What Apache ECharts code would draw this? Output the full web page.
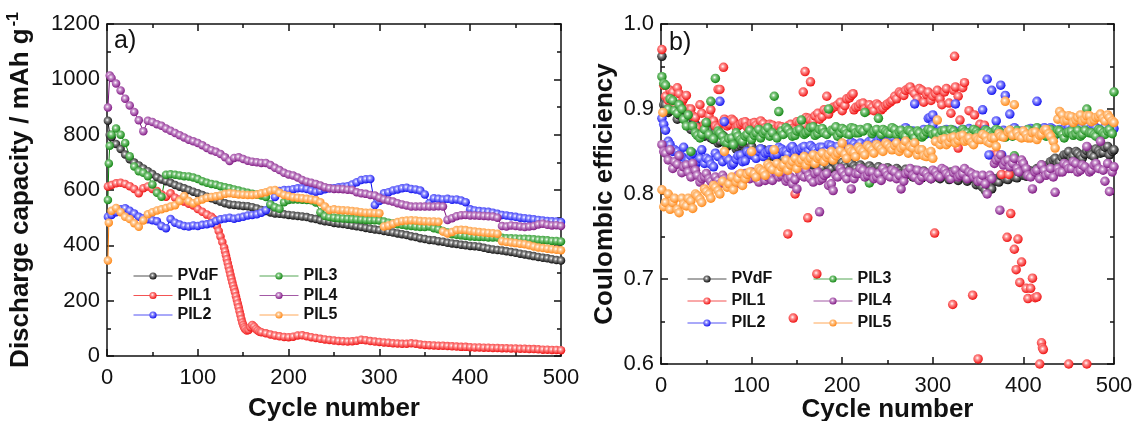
<!DOCTYPE html>
<html>
<head>
<meta charset="utf-8">
<script src="https://cdn.jsdelivr.net/npm/echarts@6/dist/echarts.min.js"></script>
<style>
html,body{margin:0;padding:0;background:#fff;}
#chart{width:1136px;height:421px;}
</style>
</head>
<body>
<div id="chart"></div>
<script>
// ---------- DATA ----------
const seriesNames = ['PVdF', 'PIL1', 'PIL2', 'PIL3', 'PIL4', 'PIL5'];
// sampling grids of cycle numbers: 1, 5, 10, ..., 500  and  3, 8, 13, ..., 498
const cycleGrid = Array.from({length: 101}, (_, i) => (i === 0 ? 1 : i * 5));
const cycleGrid2 = Array.from({length: 100}, (_, i) => 3 + i * 5);

// a) discharge capacity (mAh g-1) on cycleGrid; null = no grid point
const capPVdF = [850,
  791,766,748,728,711,699,689,678,668,658,
  646,638,632,626,618,612,606,600,594,588,
  582,576,570,564,558,552,548,546,544,542,
  541,538,533,528,524,519,515,514,512,510,
  508,506,504,502,498,495,491,487,485,481,
  479,477,474,472,469,466,463,460,457,455,
  452,449,446,443,440,437,433,430,426,423,
  419,418,415,413,409,407,405,402,400,398,
  397,395,391,388,385,383,381,379,376,373,
  370,367,364,361,358,355,353,350,347,345];
const capPVdFExtra = [[3, 800]];
const capPIL1 = [613,
  618,624,626,622,614,604,588,606,613,604,
  596,584,576,588,572,566,558,550,544,531,
  521,511,503,null,null,null,null,null,null,null,
  null,null,null,86,82,78,74,71,69,68,
  70,74,75,71,68,65,62,60,58,56,
  54,53,52,53,55,59,57,54,52,51,
  49,48,46,45,44,44,46,44,42,40,
  39,38,37,37,36,35,34,33,33,32,
  31,31,30,30,29,29,28,28,27,27,
  26,26,25,25,24,23,23,22,22,21];
const capPIL1Extra = [[117,496],[119,484],[121,470],[123,452],[125,432],[127,412],[129,392],[130,378],
  [131,364],[132,350],[133,336],[134,322],[135,308],[136,294],[137,280],[138,267],[139,254],[140,242],
  [141,230],[142,216],[143,203],[144,190],[145,176],[146,162],[147,148],[148,134],[149,121],[150,112],
  [151,104],[152,98],[154,92],[156,94],[158,104],[160,112],[162,106],[164,98],[166,92],[168,88]];
const capPIL2 = [503,
  510,520,530,534,525,515,503,498,494,491,
  487,470,462,495,482,475,470,468,472,470,
  474,476,480,488,494,497,500,496,500,503,
  508,510,512,518,527,548,575,596,600,600,
  603,606,606,604,598,594,597,603,606,606,
  610,612,614,620,628,636,639,640,546,560,
  588,592,598,602,606,608,604,602,598,584,
  552,570,568,566,568,565,566,562,556,530,
  526,524,522,521,518,514,510,508,505,503,
  500,498,496,494,492,490,488,487,486,484];
const capPIL2Extra = [];
const capPIL3 = [null,
  800,822,800,770,722,685,668,662,650,620,
  590,576,655,657,655,652,650,649,645,640,
  632,626,622,619,614,610,606,602,598,594,
  590,586,584,580,575,548,538,532,556,564,
  566,566,565,564,563,555,520,506,502,500,
  498,497,496,495,494,493,492,491,491,490,
  486,482,479,476,474,472,470,468,466,466,
  468,462,458,452,446,440,438,436,434,432,
  431,430,430,428,428,428,427,426,426,425,
  424,424,423,422,420,419,418,416,416,414];
const capPIL3Extra = [[1,564],[2,696],[3,760]];
const capPIL4 = [null,
  1005,985,960,930,905,882,852,812,850,846,
  838,832,822,814,806,798,790,782,776,770,
  762,752,744,738,730,718,705,716,718,712,
  706,702,700,698,698,690,680,672,662,656,
  652,645,636,630,626,622,616,610,606,604,
  604,603,601,600,592,588,586,582,580,572,
  566,562,558,552,548,544,540,540,540,540,
  540,540,541,540,492,498,505,509,510,508,
  508,507,506,505,504,500,470,468,472,470,
  468,466,468,470,475,478,474,472,473,470];
const capPIL4Extra = [[1,898],[3,1014]];
const capPIL5 = [null,
  525,535,520,503,495,480,467,490,512,520,
  526,530,535,540,545,560,578,560,552,560,
  566,572,575,577,580,586,588,586,584,583,
  582,582,584,588,592,598,600,590,582,578,
  574,572,570,568,566,564,556,540,528,530,
  528,527,526,524,522,520,518,518,517,516,
  468,472,478,484,488,490,491,490,488,487,
  486,486,485,450,443,448,455,456,455,452,
  450,448,446,445,444,442,415,412,410,408,
  406,404,400,396,392,390,388,386,384,382];
const capPIL5Extra = [[1,345],[2,482]];

// b) coulombic efficiency on cycleGrid (ce...) and cycleGrid2 (ce...2)
const cePVdF = [0.962,
  0.905,0.898,0.902,0.893,0.899,0.885,0.889,0.878,0.874,0.880,
  0.866,0.872,0.862,0.867,0.858,0.861,0.855,0.859,0.852,0.856,
  0.849,0.853,0.846,0.850,0.844,0.848,0.842,0.846,0.840,0.845,
  0.838,0.843,0.836,0.841,0.835,0.839,0.833,0.838,0.832,0.837,
  0.831,0.836,0.830,0.834,0.829,0.833,0.828,0.832,0.826,0.831,
  0.825,0.830,0.824,0.829,0.823,0.828,0.822,0.827,0.821,0.826,
  0.820,0.825,0.821,0.826,0.820,0.824,0.819,0.823,0.818,0.814,
  0.808,0.812,0.806,0.815,0.822,0.818,0.824,0.820,0.826,0.822,
  0.828,0.824,0.830,0.834,0.832,0.838,0.842,0.838,0.846,0.850,
  0.845,0.848,0.842,0.851,0.846,0.853,0.848,0.855,0.846,0.852];
const cePVdF2 = [
  0.905,0.896,0.900,0.888,0.894,0.884,0.876,0.882,0.870,0.868,
  0.874,0.864,0.860,0.869,0.856,0.862,0.853,0.857,0.850,0.854,
  0.851,0.847,0.852,0.843,0.848,0.841,0.846,0.839,0.844,0.838,
  0.842,0.837,0.840,0.834,0.838,0.831,0.836,0.830,0.835,0.829,
  0.834,0.828,0.833,0.827,0.831,0.826,0.830,0.824,0.829,0.823,
  0.828,0.822,0.827,0.821,0.826,0.820,0.825,0.819,0.824,0.818,
  0.823,0.818,0.822,0.817,0.821,0.816,0.820,0.815,0.819,0.811,
  0.810,0.804,0.809,0.818,0.814,0.821,0.817,0.823,0.819,0.825,
  0.821,0.827,0.825,0.831,0.829,0.835,0.840,0.836,0.843,0.847,
  0.842,0.850,0.845,0.847,0.852,0.844,0.851,0.849,0.856,0.850];
const cePVdFExtra = [];
const cePIL1 = [0.970,
  0.915,0.922,0.905,0.918,0.912,0.900,0.892,0.878,0.895,0.884,
  0.899,0.880,0.923,0.888,0.882,0.886,0.880,0.884,0.879,0.883,
  0.881,0.886,0.878,0.882,0.876,0.880,0.874,0.880,0.877,0.885,
  0.878,0.890,0.887,0.892,0.888,0.899,0.894,0.902,0.905,0.898,
  0.912,0.916,0.902,0.906,0.900,0.905,0.898,0.904,0.901,0.906,
  0.910,0.912,0.918,0.922,0.926,0.918,0.924,0.908,0.920,0.915,
  0.922,0.905,0.924,0.895,0.926,0.887,0.931,0.898,null,null,
  null,null,null,null,null,null,null,null,null,null,
  null,null,null,null,null,null,null,null,null,null,
  null,null,null,null,null,null,null,null,null,null];
const cePIL12 = [
  0.928,0.910,0.920,0.925,0.908,0.916,0.900,0.890,0.905,0.882,
  0.892,0.886,0.878,0.884,0.880,0.888,0.878,0.882,0.885,0.879,
  0.884,0.879,0.883,0.877,0.881,0.875,0.879,0.878,0.882,0.876,
  0.884,0.881,0.889,0.886,0.895,0.891,0.897,0.900,0.903,0.908,
  0.904,0.913,0.899,0.903,0.907,0.898,0.902,0.906,0.899,0.904,
  0.908,0.915,0.920,0.916,0.924,0.921,0.912,0.922,0.917,0.910,
  0.918,0.912,0.920,0.907,0.922,0.915,0.925,null,null,null,
  null,null,null,null,null,null,null,null,null,null,
  null,null,null,null,null,null,null,null,null,null,
  null,null,null,null,null,null,null,null,null,null];
const cePIL1Extra = [
  [63,0.923],[69,0.949],[157,0.92],[159,0.944],[165,0.932],[183,0.915],[212,0.918],[324,0.962],
  [328,0.854],[346,0.893],[352,0.882],[357,0.881],[365,0.846],[371,0.847],[376,0.823],[384,0.823],
  [140,0.753],[146,0.654],[148,0.8],[162,0.772],[172,0.706],[302,0.754],[322,0.67],[344,0.681],
  [350,0.606],[382,0.749],[386,0.777],[390,0.735],[392,0.711],[394,0.747],[396,0.696],[398,0.72],
  [403,0.689],[405,0.677],[408,0.689],[410,0.701],[413,0.678],[415,0.679],[418,0.6],[420,0.625],
  [421,0.619],[422,0.617],[450,0.6],[470,0.6]];
const cePIL2 = [0.889,
  0.875,0.858,0.852,0.846,0.855,0.840,0.848,0.838,0.852,0.842,
  0.835,0.848,0.909,0.885,0.840,0.836,0.845,0.838,0.850,0.846,
  0.842,0.853,0.848,0.852,0.846,0.855,0.850,0.847,0.856,0.851,
  0.854,0.848,0.857,0.852,0.855,0.850,0.858,0.853,0.856,0.852,
  0.858,0.861,0.855,0.860,0.856,0.862,0.858,0.864,0.868,0.872,
  0.866,0.874,0.870,0.878,0.872,0.906,0.870,0.876,0.889,0.881,
  0.873,0.868,0.876,0.871,0.906,0.874,0.868,0.877,0.872,0.865,
  0.899,0.935,0.922,0.886,0.928,0.916,0.894,0.878,0.872,0.868,
  0.876,0.871,0.909,0.874,0.869,0.878,0.872,0.876,0.870,0.879,
  0.873,0.877,0.871,0.880,0.874,0.878,0.872,0.879,0.875,0.877];
const cePIL22 = [
  0.882,0.862,0.850,0.850,0.844,0.838,0.845,0.834,0.842,0.836,
  0.840,0.832,0.844,0.838,0.842,0.834,0.841,0.846,0.839,0.848,
  0.845,0.850,0.844,0.849,0.852,0.847,0.853,0.850,0.854,0.849,
  0.852,0.856,0.851,0.854,0.849,0.855,0.851,0.857,0.854,0.850,
  0.856,0.853,0.859,0.857,0.854,0.860,0.863,0.861,0.866,0.870,
  0.869,0.872,0.867,0.875,0.870,0.874,0.868,0.873,0.871,0.877,
  0.870,0.874,0.872,0.869,0.875,0.871,0.876,0.870,0.874,0.868,
  0.872,0.876,0.870,0.874,0.869,0.875,0.871,0.876,0.870,0.874,
  0.872,0.877,0.871,0.875,0.878,0.873,0.876,0.871,0.875,0.874,
  0.876,0.872,0.878,0.874,0.876,0.880,0.873,0.877,0.874,0.878];
const cePIL2Extra = [[362,0.846],[376,0.846],[300,0.893],[297,0.89]];
const cePIL3 = [0.938,
  0.928,0.912,0.898,0.905,0.888,0.893,0.880,0.869,0.870,0.884,
  0.909,0.936,0.872,0.862,0.865,0.858,0.868,0.862,0.870,0.864,
  0.872,0.866,0.874,0.868,0.915,0.897,0.870,0.876,0.868,0.874,
  0.887,0.872,0.878,0.869,0.876,0.872,0.900,0.874,0.868,0.877,
  0.871,0.878,0.872,0.876,0.896,0.813,0.874,0.889,0.876,0.872,
  0.878,0.870,0.875,0.868,0.874,0.866,0.872,0.869,0.876,0.870,
  0.865,0.874,0.868,0.876,0.870,0.866,0.873,0.868,0.876,0.871,
  0.866,0.874,0.869,0.876,0.872,0.867,0.875,0.845,0.872,0.868,
  0.876,0.871,0.878,0.872,0.868,0.876,0.870,0.874,0.866,0.873,
  0.869,0.875,0.870,0.900,0.872,0.868,0.875,0.870,0.876,0.920];
const cePIL32 = [
  0.930,0.900,0.910,0.895,0.900,0.880,0.850,0.872,0.866,0.876,
  0.870,0.865,0.874,0.868,0.860,0.866,0.872,0.864,0.868,0.875,
  0.869,0.876,0.871,0.878,0.872,0.866,0.874,0.878,0.872,0.869,
  0.876,0.870,0.874,0.879,0.871,0.877,0.870,0.875,0.879,0.872,
  0.875,0.870,0.877,0.872,0.874,0.878,0.871,0.876,0.870,0.874,
  0.871,0.876,0.873,0.869,0.875,0.871,0.874,0.867,0.873,0.875,
  0.872,0.869,0.875,0.871,0.874,0.868,0.876,0.872,0.870,0.874,
  0.870,0.875,0.872,0.869,0.874,0.870,0.873,0.868,0.875,0.871,
  0.873,0.869,0.875,0.870,0.874,0.872,0.867,0.875,0.870,0.872,
  0.874,0.871,0.868,0.875,0.872,0.870,0.876,0.872,0.874,0.871];
const cePIL3Extra = [];
const cePIL4 = [0.858,
  0.848,0.852,0.838,0.845,0.832,0.826,0.836,0.822,0.818,0.824,
  0.815,0.820,0.812,0.818,0.810,0.816,0.822,0.814,0.820,0.826,
  0.818,0.824,0.816,0.822,0.828,0.820,0.826,0.818,0.812,0.806,
  0.822,0.828,0.818,0.824,0.816,0.822,0.810,0.804,0.820,0.826,
  0.818,0.806,0.824,0.830,0.820,0.826,0.818,0.824,0.830,0.822,
  0.828,0.818,0.806,0.824,0.830,0.820,0.816,0.826,0.820,0.828,
  0.822,0.830,0.824,0.818,0.828,0.822,0.830,0.826,0.820,0.815,
  0.822,0.800,0.818,0.840,0.846,0.838,0.832,0.842,0.826,0.836,
  0.822,0.806,0.828,0.834,0.822,0.830,0.802,0.826,0.836,0.830,
  0.838,0.826,0.834,0.856,0.828,0.836,0.862,0.815,0.803,0.832];
const cePIL42 = [
  0.850,0.840,0.830,0.835,0.825,0.834,0.820,0.828,0.814,0.820,
  0.818,0.812,0.816,0.822,0.810,0.814,0.818,0.812,0.824,0.818,
  0.822,0.814,0.826,0.820,0.816,0.824,0.822,0.815,0.820,0.817,
  0.826,0.820,0.822,0.814,0.826,0.818,0.824,0.812,0.822,0.830,
  0.822,0.826,0.818,0.824,0.828,0.822,0.826,0.820,0.816,0.826,
  0.820,0.826,0.822,0.815,0.826,0.822,0.828,0.820,0.824,0.818,
  0.826,0.820,0.828,0.822,0.825,0.820,0.824,0.818,0.824,0.822,
  0.816,0.812,0.822,0.836,0.842,0.834,0.840,0.836,0.830,0.840,
  0.830,0.820,0.826,0.818,0.828,0.824,0.820,0.830,0.826,0.834,
  0.830,0.836,0.828,0.832,0.826,0.834,0.830,0.828,0.836,0.826];
const cePIL4Extra = [[175,0.779],[374,0.781]];
const cePIL5 = [0.805,
  0.790,0.782,0.795,0.778,0.788,0.795,0.783,0.798,0.790,0.803,
  0.795,0.808,0.800,0.850,0.812,0.805,0.818,0.810,0.823,0.850,
  0.820,0.828,0.822,0.832,0.852,0.826,0.834,0.828,0.838,0.830,
  0.840,0.834,0.842,0.836,0.844,0.838,0.846,0.840,0.848,0.860,
  0.842,0.850,0.844,0.852,0.846,0.855,0.848,0.856,0.850,0.858,
  0.852,0.860,0.854,0.862,0.856,0.860,0.852,0.845,0.848,0.842,
  0.887,0.864,0.858,0.866,0.860,0.868,0.862,0.866,0.858,0.864,
  0.870,0.862,0.866,0.856,0.868,0.909,0.875,0.905,0.868,0.874,
  0.866,0.872,0.864,0.870,0.876,0.868,0.854,0.897,0.886,0.892,
  0.884,0.890,0.886,0.892,0.885,0.890,0.894,0.886,0.890,0.884];
const cePIL52 = [
  0.785,0.800,0.790,0.782,0.795,0.786,0.792,0.800,0.794,0.806,
  0.800,0.810,0.804,0.815,0.808,0.820,0.814,0.824,0.818,0.826,
  0.824,0.830,0.826,0.835,0.829,0.836,0.832,0.840,0.834,0.842,
  0.837,0.844,0.839,0.846,0.842,0.848,0.843,0.850,0.845,0.851,
  0.847,0.853,0.849,0.855,0.850,0.857,0.852,0.858,0.853,0.860,
  0.855,0.857,0.850,0.856,0.848,0.854,0.846,0.852,0.844,0.850,
  0.862,0.858,0.865,0.861,0.867,0.863,0.869,0.864,0.861,0.866,
  0.864,0.868,0.860,0.866,0.871,0.867,0.873,0.869,0.872,0.866,
  0.870,0.866,0.873,0.869,0.875,0.871,0.862,0.888,0.893,0.887,
  0.891,0.887,0.893,0.888,0.892,0.887,0.891,0.889,0.893,0.886];
const cePIL5Extra = [[2,0.896]];

const xTicks = [0, 100, 200, 300, 400, 500];
const capTicks = [0, 200, 400, 600, 800, 1000, 1200];
const ceTicks = [0.6, 0.7, 0.8, 0.9, 1.0];

// ---------- STYLE ----------
const FONT = "'Liberation Sans', Arial, Helvetica, sans-serif";
const INK = '#111111';
const palette = {
  PVdF: ['#050505', '#8a8a8a'],
  PIL1: ['#ee0a0a', '#ff9090'],
  PIL2: ['#0a0aee', '#9090ff'],
  PIL3: ['#0c820c', '#80c880'],
  PIL4: ['#7c127f', '#c890cc'],
  PIL5: ['#ff8512', '#ffc890']
};
function ball(name) {
  const [c, mid] = palette[name];
  return {type: 'radial', x: 0.42, y: 0.4, r: 0.62,
    colorStops: [{offset: 0, color: '#ffffff'}, {offset: 0.32, color: mid}, {offset: 1, color: c}]};
}
function pairs(sets, extra) {
  const out = [];
  sets.forEach(([grid, values]) => {
    values.forEach((v, i) => { if (v !== null) out.push([grid[i], v]); });
  });
  extra.forEach(p => out.push(p));
  out.sort((a, b) => a[0] - b[0]);
  return out;
}
const capData = {
  PVdF: pairs([[cycleGrid, capPVdF]], capPVdFExtra),
  PIL1: pairs([[cycleGrid, capPIL1]], capPIL1Extra),
  PIL2: pairs([[cycleGrid, capPIL2]], capPIL2Extra),
  PIL3: pairs([[cycleGrid, capPIL3]], capPIL3Extra),
  PIL4: pairs([[cycleGrid, capPIL4]], capPIL4Extra),
  PIL5: pairs([[cycleGrid, capPIL5]], capPIL5Extra)
};
const ceData = {
  PVdF: pairs([[cycleGrid, cePVdF], [cycleGrid2, cePVdF2]], cePVdFExtra),
  PIL1: pairs([[cycleGrid, cePIL1], [cycleGrid2, cePIL12]], cePIL1Extra),
  PIL2: pairs([[cycleGrid, cePIL2], [cycleGrid2, cePIL22]], cePIL2Extra),
  PIL3: pairs([[cycleGrid, cePIL3], [cycleGrid2, cePIL32]], cePIL3Extra),
  PIL4: pairs([[cycleGrid, cePIL4], [cycleGrid2, cePIL42]], cePIL4Extra),
  PIL5: pairs([[cycleGrid, cePIL5], [cycleGrid2, cePIL52]], cePIL5Extra)
};

const lineW = 1.5;
function xAxisDef(gridIndex, top, withName, nameGap) {
  return {
    type: 'value', gridIndex, position: top ? 'top' : 'bottom',
    min: xTicks[0], max: xTicks[xTicks.length - 1], interval: xTicks[1] - xTicks[0],
    axisLine: {onZero: false, lineStyle: {color: INK, width: lineW}},
    axisTick: {inside: true, length: 7, lineStyle: {color: INK, width: lineW}},
    minorTick: {show: true, splitNumber: 2, length: 4, lineStyle: {color: INK, width: lineW}},
    splitLine: {show: false},
    axisLabel: {show: !top, fontSize: 22, margin: 11, color: INK, fontFamily: FONT},
    name: withName ? 'Cycle number' : '', nameLocation: 'middle', nameGap: nameGap || 40,
    nameMoveOverlap: false,
    nameTextStyle: {fontSize: 26, fontWeight: 'bold', color: INK, fontFamily: FONT}
  };
}
function yAxisDef(gridIndex, right, ticks, fmt, name, nameGap) {
  return {
    type: 'value', gridIndex, position: right ? 'right' : 'left',
    min: ticks[0], max: ticks[ticks.length - 1], interval: +(ticks[1] - ticks[0]).toFixed(6),
    axisLine: {onZero: false, lineStyle: {color: INK, width: lineW}},
    axisTick: {inside: true, length: 7, lineStyle: {color: INK, width: lineW}},
    minorTick: {show: true, splitNumber: 2, length: 4, lineStyle: {color: INK, width: lineW}},
    splitLine: {show: false},
    axisLabel: {show: !right, fontSize: 22, margin: 7, color: INK, fontFamily: FONT, formatter: fmt},
    name: right ? '' : name, nameLocation: 'middle', nameGap: nameGap, nameRotate: 90,
    nameMoveOverlap: false,
    nameTextStyle: {fontSize: 26, fontWeight: 'bold', color: INK, fontFamily: FONT,
      rich: {
        t: {fontSize: 26, fontWeight: 'bold', color: INK, fontFamily: FONT, lineHeight: 30},
        s: {fontSize: 16, fontWeight: 'bold', color: INK, fontFamily: FONT, lineHeight: 16, verticalAlign: 'top', padding: [0, 0, 0, 2]}
      }}
  };
}

const series = [];
seriesNames.forEach(n => {
  series.push({
    name: n, type: 'line', xAxisIndex: 0, yAxisIndex: 0, data: capData[n],
    symbol: 'circle', symbolSize: 8.5, showAllSymbol: true, clip: true,
    lineStyle: {color: palette[n][0], width: 1},
    itemStyle: {color: ball(n), borderWidth: 0},
    emphasis: {disabled: true}
  });
});
seriesNames.forEach(n => {
  series.push({
    name: n, type: 'line', xAxisIndex: 2, yAxisIndex: 2, data: ceData[n],
    symbol: 'circle', symbolSize: 9.5, showAllSymbol: true, clip: false,
    lineStyle: {color: palette[n][0], width: 1, opacity: 0},
    itemStyle: {color: ball(n), borderWidth: 0},
    emphasis: {disabled: true}
  });
});

function legendDef(names, left, top, gap) {
  return {
    data: names, orient: 'vertical', left, top, padding: 0,
    itemWidth: 39, itemHeight: 9, itemGap: gap, selectedMode: false,
    lineStyle: {width: 1, opacity: 0.7},
    textStyle: {fontSize: 16, fontWeight: 'bold', color: INK, fontFamily: FONT, lineHeight: 16}
  };
}

const option = {
  animation: false,
  backgroundColor: '#ffffff',
  title: [
    {text: 'a)', left: 114, top: 29, padding: 0, textStyle: {fontSize: 25, fontWeight: 'normal', color: INK, fontFamily: FONT}},
    {text: 'b)', left: 669, top: 31, padding: 0, textStyle: {fontSize: 25, fontWeight: 'normal', color: INK, fontFamily: FONT}}
  ],
  grid: [
    {left: 107, top: 24, width: 454, height: 332, containLabel: false, outerBoundsMode: 'none'},
    {left: 661, top: 24, width: 453, height: 340, containLabel: false, outerBoundsMode: 'none'}
  ],
  xAxis: [xAxisDef(0, false, true, 40), xAxisDef(0, true, false), xAxisDef(1, false, true, 33), xAxisDef(1, true, false)],
  yAxis: [
    yAxisDef(0, false, capTicks, v => String(v), '{t|Discharge capacity / mAh g}{s|-1}', 71),
    yAxisDef(0, true, capTicks, v => String(v), '', 0),
    yAxisDef(1, false, ceTicks, v => v.toFixed(1), 'Coulombic efficiency', 43),
    yAxisDef(1, true, ceTicks, v => v.toFixed(1), '', 0)
  ],
  legend: [
    legendDef(['PVdF', 'PIL1', 'PIL2'], 133, 268, 3.5),
    legendDef(['PIL3', 'PIL4', 'PIL5'], 259, 268, 3.5),
    legendDef(['PVdF', 'PIL1', 'PIL2'], 687, 271, 6),
    legendDef(['PIL3', 'PIL4', 'PIL5'], 813, 271, 6)
  ],
  series
};

const chart = echarts.init(document.getElementById('chart'), null, {renderer: 'canvas'});
chart.setOption(option);
</script>
</body>
</html>
